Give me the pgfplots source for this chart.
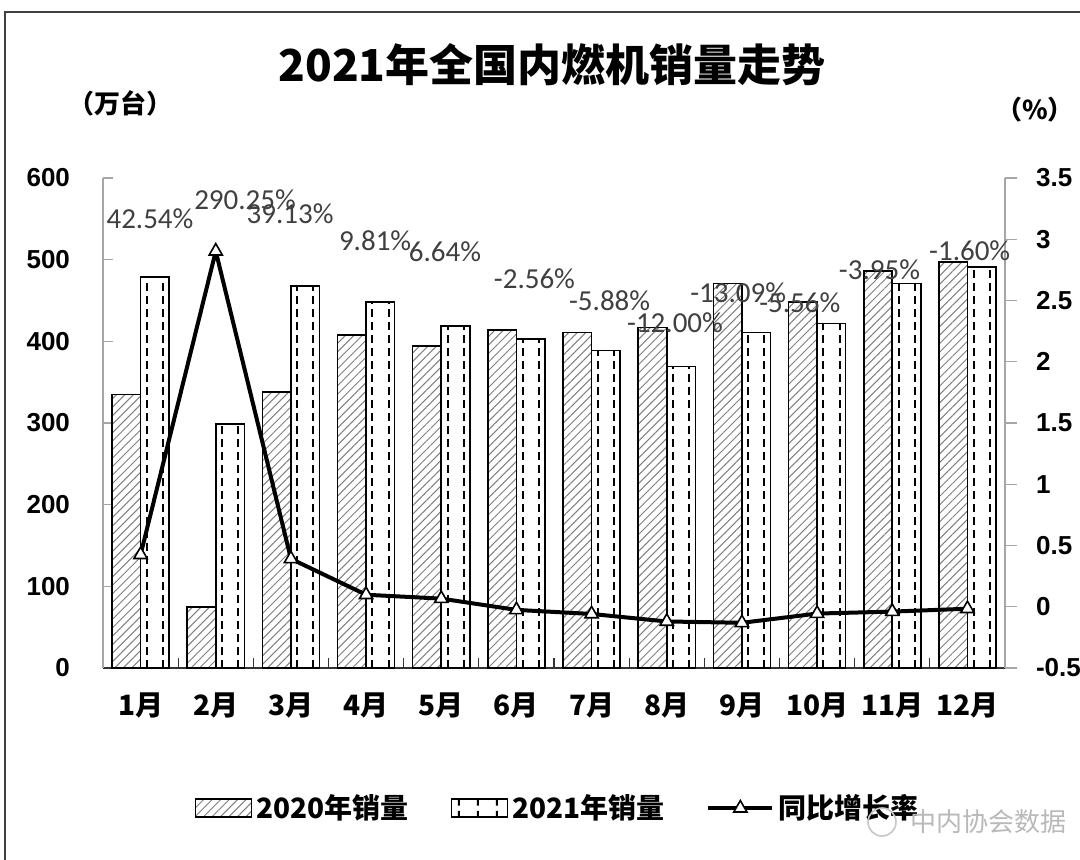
\documentclass[border=0pt]{standalone}
\usepackage{pgfplots}
\usepackage{pgfplotstable}
\pgfplotsset{compat=1.18}
\usetikzlibrary{patterns.meta}
\usepackage{fontspec}
\setmainfont{Liberation Sans}
\newfontfamily\cjk{Noto Sans CJK SC}
\newfontfamily\calfont{Carlito}
\definecolor{labgray}{HTML}{404040}
\tikzdeclarepattern{
  name=vdashes,
  type=uncolored,
  bounding box={(0pt,0pt) and (9.4pt,6.5pt)},
  tile size={(9.4pt,6.5pt)},
  code={\draw[line width=1pt] (3.9pt,1.2pt) -- (3.9pt,5.2pt);}
}
\pgfplotsset{
  barlegend/.style={legend image code/.code={\draw[##1] (0pt,-4.5pt) rectangle (28pt,4.5pt);}},
  linelegend/.style={legend image code/.code={\draw[mark repeat=2,mark phase=2,##1] plot coordinates {(0pt,0pt) (16pt,0pt) (32pt,0pt)};}},
}
\pgfplotstableread{
m a b
0 335 479
1 75 299
2 338 468
3 408 448
4 394 419
5 414 403
6 411 389
7 417 369
8 471 411
9 448 422
10 486 471
11 497 491
}\salesdata
\newcommand\PP[2]{({#1*0.5pt},{(859-#2)*0.5pt})}
\begin{document}
\begin{tikzpicture}
\path[use as bounding box] (0,0) rectangle (540pt,429.5pt);
\fill[white] (0,0) rectangle (540pt,429.5pt);
\draw[line width=1.2pt, black!75] \PP{5}{12} rectangle \PP{1095}{875};
\node[font=\cjk\bfseries\fontsize{22}{26}\selectfont] at \PP{552}{65} {2021年全国内燃机销量走势};
\node[font=\cjk\bfseries\fontsize{13}{15}\selectfont] at \PP{120}{103} {（万台）};
\node[font=\cjk\bfseries\fontsize{13}{15}\selectfont] at \PP{1035}{110} {（\%）};

\begin{axis}[
  at={(51.5pt,95.5pt)}, anchor=south west,
  width=451pt, height=245pt, scale only axis,
  ybar,
  xmin=-0.5, xmax=11.5, ymin=0, ymax=600,
  axis x line*=bottom, axis y line*=left,
  x axis line style={black!80, line width=0.8pt},
  y axis line style={gray!70, line width=0.6pt},
  tick align=inside, major tick length=5pt,
  ytick={0,100,...,600},
  yticklabels={0,100,200,300,400,500,600},
  ytick style={gray!70, line width=0.6pt},
  yticklabel style={font=\bfseries\fontsize{13}{15}\selectfont, xshift=-13pt},
  xtick={-0.5,0.5,...,11.5},
  xticklabels={},
  xtick style={black!80, line width=0.6pt},
  extra x ticks={0,1,2,3,4,5,6,7,8,9,10,11},
  extra x tick labels={1月,2月,3月,4月,5月,6月,7月,8月,9月,10月,11月,12月},
  extra x tick style={tick style={draw=none}, tick label style={font=\cjk\bfseries\fontsize{14}{16}\selectfont, yshift=-9pt}},
  bar width=0.38,
]
\addplot[bar shift=-0.19, draw=black, line width=0.8pt,
  pattern={Lines[angle=45,distance=3pt,line width=0.5pt]}, pattern color=gray]
  table[x=m, y=a] {\salesdata};
\addplot[bar shift=0.19, draw=black, line width=0.8pt, fill=white]
  table[x=m, y=b] {\salesdata};
\addplot[ycomb, mark=none, black, line width=1pt, dash pattern=on 4pt off 2.5pt]
  table[x expr=\thisrow{m}+0.085, y=b] {\salesdata};
\addplot[ycomb, mark=none, black, line width=1pt, dash pattern=on 4pt off 2.5pt]
  table[x expr=\thisrow{m}+0.300, y=b] {\salesdata};
\end{axis}

\begin{axis}[
  at={(51.5pt,95.5pt)}, anchor=south west,
  width=451pt, height=245pt, scale only axis,
  xmin=-0.5, xmax=11.5, ymin=-0.5, ymax=3.5,
  axis x line=none, axis y line*=right,
  y axis line style={gray!70, line width=0.6pt},
  tick align=outside, major tick length=6pt,
  ytick={-0.5,0,0.5,1,1.5,2,2.5,3,3.5},
  yticklabels={-0.5,0,0.5,1,1.5,2,2.5,3,3.5},
  ytick style={gray!70, line width=0.6pt},
  yticklabel style={font=\bfseries\fontsize{13}{15}\selectfont, xshift=6pt},
  clip=false,
  legend style={at={(0.505,-0.286)}, anchor=center, draw=none, fill=none,
    legend columns=3, font=\cjk\bfseries\fontsize{14}{16}\selectfont,
    /tikz/every even column/.append style={column sep=19pt}},
]
\addlegendimage{barlegend, draw=black, line width=0.8pt, pattern={Lines[angle=45,distance=3pt,line width=0.5pt]}, pattern color=gray}
\addlegendentry{2020年销量}
\addlegendimage{barlegend, draw=black, line width=0.8pt, pattern=vdashes, pattern color=black}
\addlegendentry{2021年销量}
\addplot[linelegend, black, line width=2pt, mark=triangle*, mark size=3.8pt,
  mark options={fill=white, draw=black, line width=0.8pt}]
  coordinates {(0,0.4254) (1,2.9025) (2,0.3913) (3,0.0981) (4,0.0664) (5,-0.0256) (6,-0.0588) (7,-0.12) (8,-0.1309) (9,-0.0556) (10,-0.0395) (11,-0.016)};
\addlegendentry{同比增长率}
\addplot[draw=none, mark=none, forget plot, nodes near coords, point meta=explicit symbolic,
  every node near coord/.style={anchor=center, inner sep=0pt, text=labgray, font=\calfont\fontsize{14.5}{16}\selectfont}]
  coordinates {(0.125,3.17) [42.54\%] (1.39,3.32) [290.25\%] (1.99,3.21) [39.13\%] (3.12,2.99) [9.81\%]
    (4.05,2.90) [6.64\%] (5.24,2.68) [-2.56\%] (6.24,2.50) [-5.88\%] (7.11,2.32) [-12.00\%]
    (7.95,2.56) [-13.09\%] (8.77,2.48) [-5.56\%] (9.83,2.75) [-3.95\%] (11.03,2.91) [-1.60\%]};
\end{axis}
\node[font=\cjk\fontsize{13}{15}\selectfont, text=gray!55] at \PP{988}{822} {中内协会数据};
\draw[gray!45, line width=0.8pt] \PP{882}{822} circle (7pt);
\end{tikzpicture}
\end{document}
